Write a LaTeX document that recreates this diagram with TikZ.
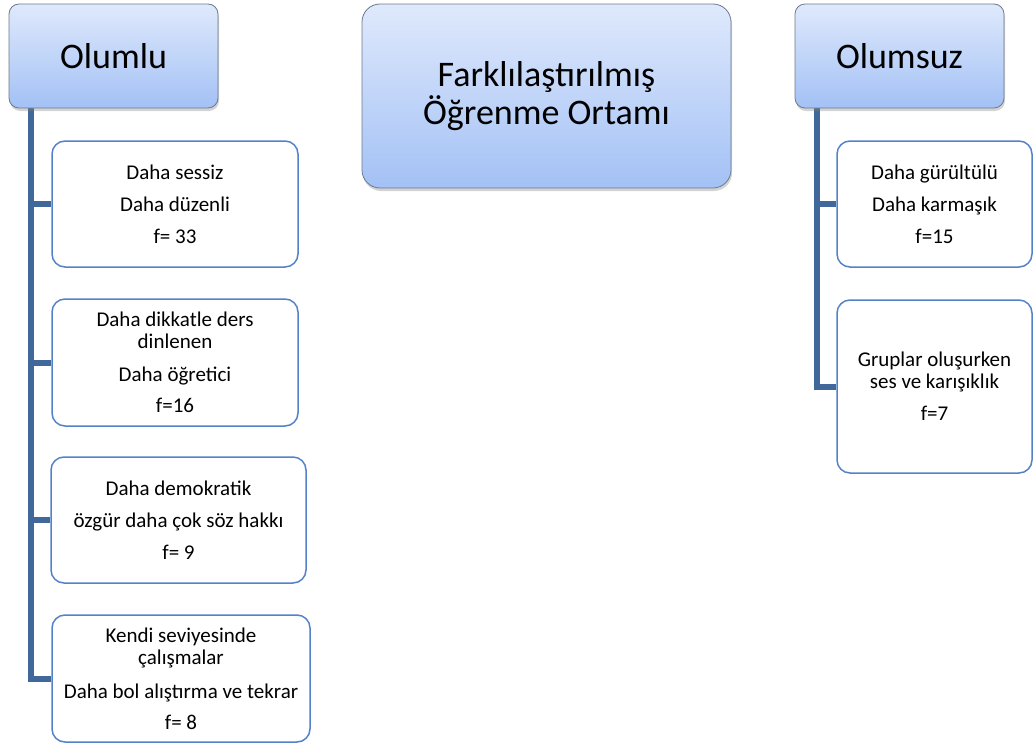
\documentclass[tikz,border=0pt]{standalone}
\usepackage{fontspec}
\setmainfont{Carlito}
\usetikzlibrary{shadows,backgrounds}

\definecolor{headtop}{RGB}{223,233,252}
\definecolor{headbot}{RGB}{163,193,245}
\definecolor{headline}{RGB}{108,122,142}
\definecolor{itemline}{RGB}{84,130,200}
\definecolor{trunk}{RGB}{65,104,155}

\tikzset{
  head/.style={draw=headline, line width=0.8pt, rounded corners=10pt,
    top color=headtop, bottom color=headbot,
    drop shadow={opacity=0.35, shadow xshift=1pt, shadow yshift=-3pt},
    align=center, inner sep=0pt, font=\fontsize{36}{38}\selectfont},
  item/.style={draw=itemline, line width=1.5pt, rounded corners=13pt,
    fill=white, align=center, inner sep=0pt,
    font=\fontsize{21}{22}\selectfont},
  stem/.style={draw=trunk, line width=6pt},
}

\begin{document}
\begin{tikzpicture}[x=1pt, y=-1pt]
\useasboundingbox (0,0) rectangle (1033,744);

% headers
\node[head, minimum width=209pt, minimum height=104pt] (pos) at (113.5,56) {Olumlu};
\node[head, minimum width=369pt, minimum height=184pt, rounded corners=18pt] (mid) at (546.5,96)
  {Farklılaştırılmış\\Öğrenme Ortamı};
\node[head, minimum width=209pt, minimum height=104pt] (neg) at (899.5,56) {Olumsuz};

% positive items
\node[item, minimum width=246pt, minimum height=126pt] (p1) at (175,204)
  {Daha sessiz\\[10pt]Daha düzenli\\[10pt]f= 33};
\node[item, minimum width=246pt, minimum height=127pt] (p2) at (175,362.5)
  {Daha dikkatle ders\\dinlenen\\[11pt]Daha öğretici\\[9pt]f=16};
\node[item, minimum width=255pt, minimum height=126pt] (p3) at (178.5,520)
  {Daha demokratik\\[10pt]özgür daha çok söz hakkı\\[10pt]f= 9};
\node[item, minimum width=258pt, minimum height=127pt] (p4) at (181,678.5)
  {Kendi seviyesinde\\çalışmalar\\[12pt]Daha bol alıştırma ve tekrar\\[9pt]f= 8};

% negative items
\node[item, minimum width=195pt, minimum height=126pt] (n1) at (934.5,204)
  {Daha gürültülü\\[10pt]Daha karmaşık\\[10pt]f=15};
\node[item, minimum width=195pt, minimum height=173pt] (n2) at (934.5,386.5)
  {Gruplar oluşurken\\ses ve karışıklık\\[10pt]f=7};

% trunks and branches
\coordinate (L) at ([xshift=22pt]pos.south west);
\coordinate (R) at ([xshift=22pt]neg.south west);
\begin{scope}[on background layer]
  \draw[stem] (L) |- (p4.west);
  \draw[stem] (p1.west -| L) -- (p1.west);
  \draw[stem] (p2.west -| L) -- (p2.west);
  \draw[stem] (p3.west -| L) -- (p3.west);
  \draw[stem] (R) |- (n2.west);
  \draw[stem] (n1.west -| R) -- (n1.west);
\end{scope}
\end{tikzpicture}
\end{document}
